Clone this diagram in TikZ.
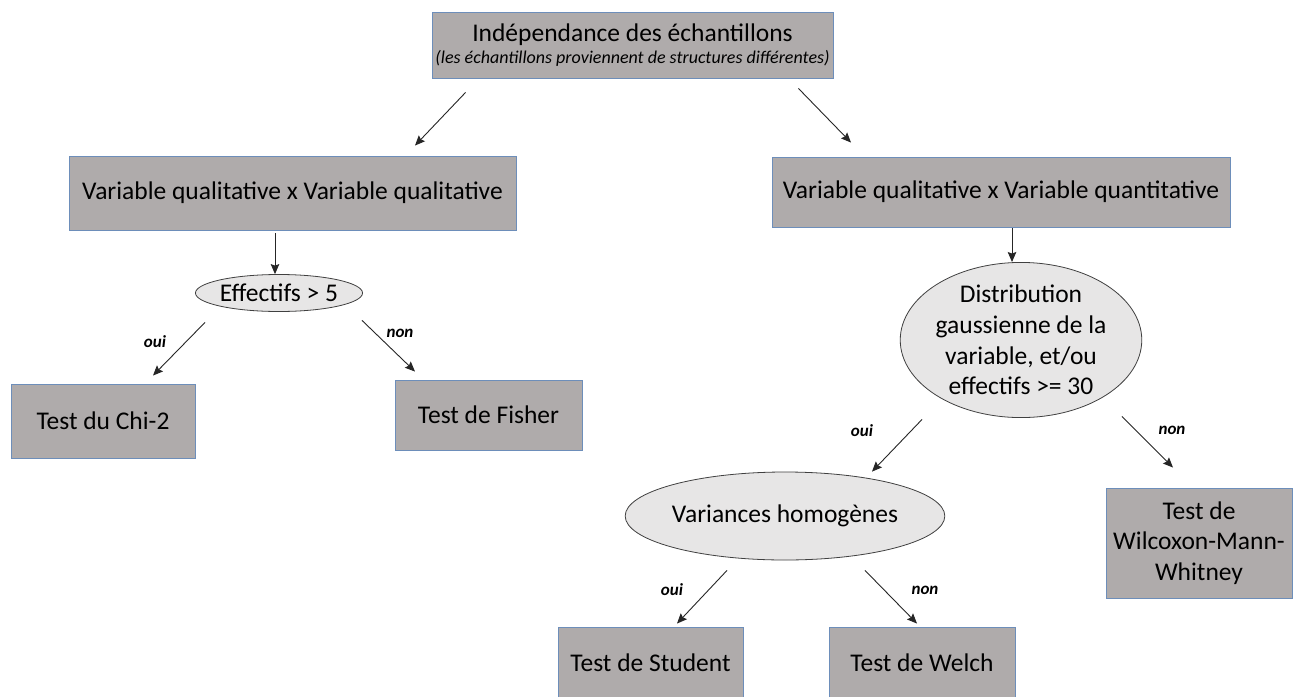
\documentclass[tikz,border=0pt]{standalone}
\usepackage{fontspec}
\setmainfont{Carlito}
\usetikzlibrary{arrows.meta,shapes.geometric}
\definecolor{boxfill}{HTML}{AFABAB}
\definecolor{boxline}{HTML}{6D8EBA}
\definecolor{ellfill}{HTML}{E7E6E6}
\definecolor{ellline}{HTML}{404040}
\newcommand\mainfnt{\fontsize{25.5}{30.6}\selectfont}
\newcommand\labfnt{\fontsize{17}{19}\selectfont\bfseries\itshape}
\begin{document}
\begin{tikzpicture}[x=1pt,y=-1pt,
  box/.style={draw=boxline, fill=boxfill, line width=0.9pt, inner sep=0pt, align=center, font=\mainfnt},
  ell/.style={ellipse, draw=ellline, fill=ellfill, line width=0.8pt, inner sep=0pt, align=center, font=\mainfnt},
  arr/.style={-{Stealth[length=10pt,width=8.5pt,inset=1.5pt]}, line width=0.9pt, black!85},
  lab/.style={font=\labfnt, inner sep=0pt}]
\useasboundingbox[fill=white] (0,0) rectangle (1300,696);

% boxes
\node[box, minimum width=401, minimum height=66, font={\fontsize{25.5}{22}\selectfont}] (top) at (632.5,45)
  {Indépendance des échantillons\\{\fontsize{18}{20}\selectfont\itshape (les échantillons proviennent de structures différentes)}};
\node[box, minimum width=447, minimum height=74] (lq) at (292.5,193) {Variable qualitative x Variable qualitative};
\node[box, minimum width=458, minimum height=70] (rq) at (1001,192) {Variable qualitative x Variable quantitative};
\node[ell, minimum width=165, minimum height=37] (eff) at (279,293) {Effectifs > 5};
\node[ell, minimum width=228, minimum height=153] (dist) at (1021,340)
  {Distribution\\gaussienne de la\\variable, et/ou\\effectifs >= 30};
\node[box, minimum width=184, minimum height=74] (chi) at (103,421) {Test du Chi-2};
\node[box, minimum width=187, minimum height=70] (fis) at (488.5,415) {Test de Fisher};
\node[ell, minimum width=300, minimum height=88] (var) at (785,516) {Variances homogènes};
\node[box, minimum width=186, minimum height=110] (wil) at (1199,543) {Test de\\Wilcoxon-Mann-\\Whitney};
\node[box, minimum width=185, minimum height=72] (stu) at (650.5,663) {Test de Student};
\node[box, minimum width=186, minimum height=72] (wel) at (922,663) {Test de Welch};

% arrows
\draw[arr] ([shift={(34,14)}]top.south west) -- ([shift={(122.5,-10)}]lq.north);
\draw[arr] ([shift={(-35,10)}]top.south east) -- ([shift={(-150,-14)}]rq.north);
\draw[arr] ([shift={(-17.5,3)}]lq.south) -- ([shift={(-4,0)}]eff.north);
\draw[arr] ([shift={(11,1)}]rq.south) -- ([shift={(-9,0)}]dist.north);
\draw[arr] ([shift={(-74,10.5)}]eff.south) -- ([shift={(50,-8)}]chi.north);
\draw[arr] ([shift={(83,8.5)}]eff.south) -- ([shift={(-73.5,-8)}]fis.north);
\draw[arr] ([shift={(-99,1.5)}]dist.south) -- ([shift={(87,0)}]var.north);
\draw[arr] ([shift={(101,-1.5)}]dist.south) -- ([shift={(-26,-20)}]wil.north);
\draw[arr] ([shift={(-58,10)}]var.south) -- ([shift={(26.5,-3)}]stu.north);
\draw[arr] ([shift={(80,10)}]var.south) -- ([shift={(-5,-3)}]wel.north);

% labels
\node[lab] (l1) at (155,342) {oui};
\node[lab] (l2) at (400,333) {non};
\node[lab] (l3) at (862,431) {oui};
\node[lab] (l4) at (1172,430) {non};
\node[lab] (l5) at (672,590) {oui};
\node[lab] (l6) at (925,590) {non};
\end{tikzpicture}
\end{document}
